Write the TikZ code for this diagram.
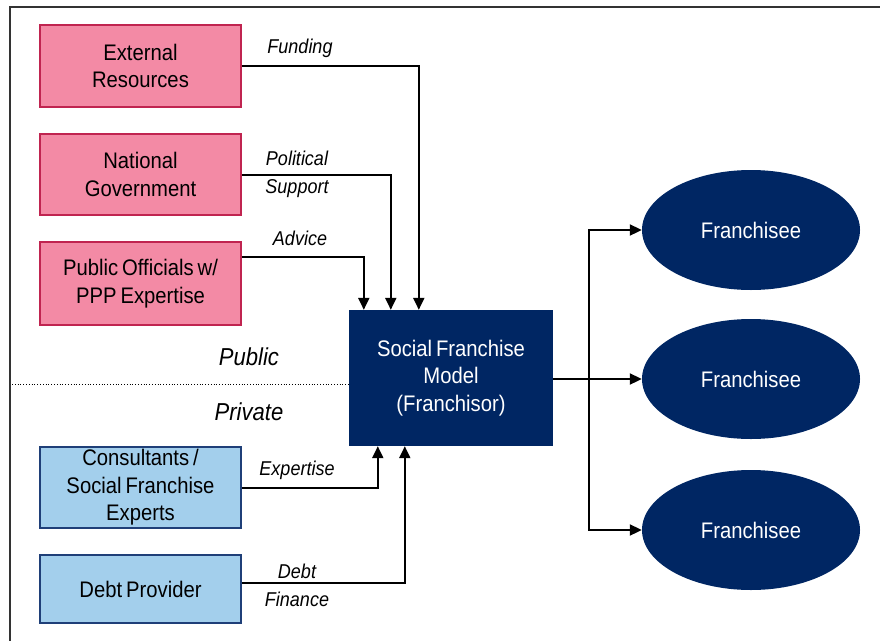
\documentclass[tikz,border=0pt]{standalone}
\usepackage{fontspec}
\setmainfont{Liberation Sans}[FakeStretch=0.9,WordSpace=0.7]
\usetikzlibrary{arrows.meta,shapes.geometric}
\definecolor{pinkfill}{HTML}{F38AA5}
\definecolor{pinkline}{HTML}{C02450}
\definecolor{bluefill}{HTML}{A3CFEC}
\definecolor{blueline}{HTML}{1F3F78}
\definecolor{navy}{HTML}{002663}
\definecolor{framec}{HTML}{333333}
\tikzset{
  boxfont/.style={font=\fontsize{22.5}{27.5}\selectfont},
  pubbox/.style={boxfont,draw=pinkline,line width=1.5pt,fill=pinkfill,minimum width=201pt,align=center,inner sep=0pt},
  privbox/.style={boxfont,draw=blueline,line width=1.5pt,fill=bluefill,minimum width=201pt,align=center,inner sep=0pt},
  sfmbox/.style={boxfont,fill=navy,text=white,minimum width=204pt,minimum height=136pt,align=center,inner sep=0pt},
  fran/.style={boxfont,ellipse,fill=navy,text=white,minimum width=218pt,minimum height=120pt,inner sep=0pt},
  arr/.style={line width=2pt,-{Triangle[length=12pt,width=11pt]}},
  lbl/.style={font=\fontsize{20}{28}\selectfont\itshape,align=center,inner sep=0pt},
  sect/.style={font=\fontsize{24.5}{27}\selectfont\itshape,inner sep=0pt},
}
\begin{document}
\begin{tikzpicture}[x=1pt,y=-1pt]
\useasboundingbox (0,0) rectangle (880,640);
\draw[framec,line width=2pt] (10,641) -- (10,7) -- (881,7);

\node[pubbox,minimum height=82pt] (ext) at (140.5,66) {External\\Resources};
\node[pubbox,minimum height=81pt] (gov) at (140.5,174.5) {National\\Government};
\node[pubbox,minimum height=83pt] (pub) at (140.5,283.5) {Public Officials w/\\PPP Expertise};
\node[privbox,minimum height=81pt] (cons) at (140.5,487.5) {Consultants /\\Social Franchise\\Experts};
\node[privbox,minimum height=68pt] (debt) at (140.5,589) {Debt Provider};

\node[sfmbox] (sfm) at (451,378) {Social Franchise\\Model\\(Franchisor)};

\node[fran] (f1) at (751,230) {Franchisee};
\node[fran] (f2) at (751,379) {Franchisee};
\node[fran] (f3) at (751,530) {Franchisee};

\coordinate (ine) at ([xshift=70pt]sfm.north west);
\coordinate (ing) at ([xshift=42pt]sfm.north west);
\coordinate (inp) at ([xshift=15pt]sfm.north west);
\coordinate (inc) at ([xshift=29pt]sfm.south west);
\coordinate (ind) at ([xshift=56pt]sfm.south west);
\coordinate (branch) at (589,379);

\draw[arr] (ext.east) -| (ine);
\draw[arr] (gov.east) -| (ing);
\draw[arr] ([yshift=26.5pt]pub.east) -| (inp);
\draw[arr] (cons.east) -| (inc);
\draw[arr] ([yshift=6pt]debt.east) -| (ind);

\draw[line width=2pt] (sfm.east |- branch) -- (branch);
\draw[arr] (branch) |- (f1.west);
\draw[arr] (branch) -- (f2.west);
\draw[arr] (branch) |- (f3.west);

\coordinate (dl) at (12,384);
\draw[line width=0.8pt,dotted] (dl) -- (sfm.west |- dl);

\node[lbl] (lf) at (300,48) {Funding};
\node[lbl] (lg) at (297,174) {Political\\Support};
\node[lbl] (la) at (300,238) {Advice};
\node[lbl] (le) at (297,470) {Expertise};
\node[lbl] (ld) at (297,585.5) {Debt\\Finance};
\node[sect] (spub) at (249,357) {Public};
\node[sect] (spri) at (249,412) {Private};
\end{tikzpicture}
\end{document}
